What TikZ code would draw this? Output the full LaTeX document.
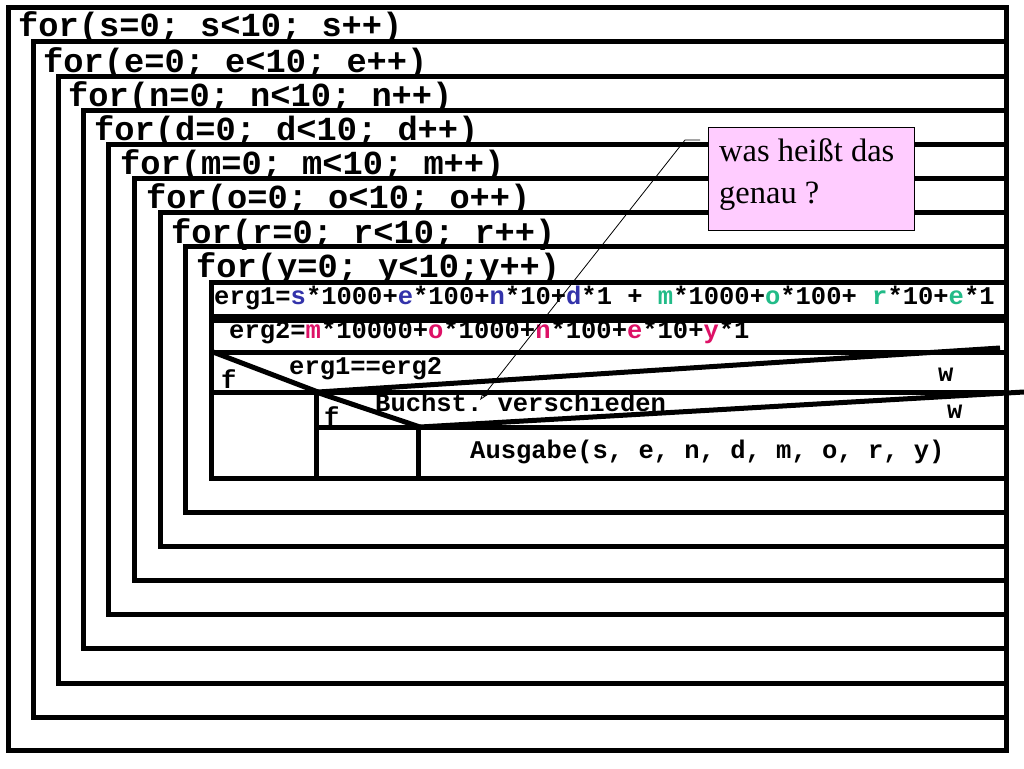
\documentclass[tikz,border=0pt]{standalone}
\usepackage{fontspec}
\usetikzlibrary{arrows.meta}
\setmainfont{Liberation Serif}
\setmonofont{Liberation Mono}
\definecolor{cb}{HTML}{3333AA}
\definecolor{cg}{HTML}{22BB88}
\definecolor{cr}{HTML}{DD1166}
\definecolor{pinkbox}{HTML}{FFCCFF}
\begin{document}
\begin{tikzpicture}[x=1pt,y=-1pt,
  box/.style={line width=5pt},
  hdr/.style={anchor=west,inner sep=0pt,font=\ttfamily\bfseries\fontsize{33.7}{34}\selectfont},
  itxt/.style={anchor=west,inner sep=0pt,font=\ttfamily\bfseries\fontsize{25.5}{26}\selectfont}]
\useasboundingbox (0,0) rectangle (1024,768);
\fill[white] (0,0) rectangle (1024,768);
% nested loop boxes
\foreach \l/\t/\b in {8/8/750,33/42/717,58/76/683,83/110/648,108/144/614,134/178/580,160/212/546,185/246/512}{
  \draw[box] (1006,\t) -- (\l,\t) -- (\l,\b) -- (1006,\b) -- cycle;
}
\node[hdr] (h1) at (18,28) {for(s=0; s<10; s++)};
\node[hdr] (h2) at (43,64) {for(e=0; e<10; e++)};
\node[hdr] (h3) at (68,98) {for(n=0; n<10; n++)};
\node[hdr] (h4) at (94,132) {for(d=0; d<10; d++)};
\node[hdr] (h5) at (120,166) {for(m=0; m<10; m++)};
\node[hdr] (h6) at (146,200) {for(o=0; o<10; o++)};
\node[hdr] (h7) at (171,235) {for(r=0; r<10; r++)};
\node[hdr] (h8) at (196,269) {for(y=0; y<10;y++)};
% inner block
\draw[box] (211,282) rectangle (1006,478);
\draw[box] (211,316) -- (1006,316);
\draw[box] (211,320) -- (1006,320);
\draw[box] (211,352) -- (1006,352);
\draw[box] (213,352) -- (318,392);
\draw[box] (318,392) -- (1000,348);
\draw[box] (211,392) -- (1006,392);
\draw[box] (316,392) -- (316,478);
\draw[box] (316,392) -- (420,427);
\draw[box] (420,427) -- (1024,392);
\draw[box] (316,427) -- (1006,427);
\draw[box] (418,427) -- (418,478);
\node[itxt] (e1) at (214,298) {erg1=\textcolor{cb}{s}*1000+\textcolor{cb}{e}*100+\textcolor{cb}{n}*10+\textcolor{cb}{d}*1 + \textcolor{cg}{m}*1000+\textcolor{cg}{o}*100+ \textcolor{cg}{r}*10+\textcolor{cg}{e}*1};
\node[itxt] (e2) at (229,332) {erg2=\textcolor{cr}{m}*10000+\textcolor{cr}{o}*1000+\textcolor{cr}{n}*100+\textcolor{cr}{e}*10+\textcolor{cr}{y}*1};
\node[itxt] (c1) at (289,369) {erg1==erg2};
\node[itxt] (f1) at (221,379) {f};
\node[itxt] (w1) at (938,375) {w};
\node[itxt] (c2) at (375,402) {Buchst. verschieden};
\node[itxt] (f2) at (324,416) {f};
\node[itxt] (w2) at (947,412) {w};
\node[itxt] (out) at (470,452) {Ausgabe(s, e, n, d, m, o, r, y)};
% comment box
\node[draw=black,line width=0.8pt,fill=pinkbox,anchor=north west,minimum width=206pt,minimum height=103pt,inner sep=0pt] (note) at (708,127) {};
\node[anchor=north west,inner sep=0pt,align=left,font=\fontsize{32.5}{42}\selectfont] (notetxt) at (719,138) {was heißt das\\genau ?};
\coordinate (k1) at (700,140);
\coordinate (k2) at (685,140);
\coordinate (tip) at (480,400);
\draw[line width=0.8pt,-{Stealth[length=9pt,width=6pt,open]}] (k1) -- (k2) -- (tip);
\end{tikzpicture}
\end{document}
